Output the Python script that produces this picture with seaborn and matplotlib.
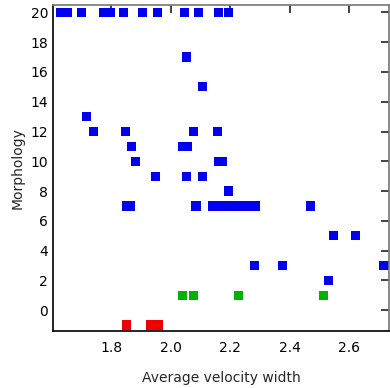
import numpy as np
import pandas as pd
import matplotlib
matplotlib.use("Agg")
import matplotlib.pyplot as plt
import seaborn as sns

# --- data ---
blue_x = [1.627, 1.653, 1.699, 1.772, 1.798, 1.840, 1.904, 1.955, 2.046, 2.093, 2.160, 2.194,
          2.053,
          2.106,
          1.716,
          1.739, 1.847, 2.076, 2.157,
          1.867, 2.039, 2.056,
          1.881, 2.160, 2.174,
          1.948, 2.053, 2.106,
          2.194,
          1.851, 1.864, 2.085, 2.14, 2.17, 2.20, 2.23, 2.26, 2.285, 2.470,
          2.548, 2.622,
          2.282, 2.376, 2.718, 2.728,
          2.532]
blue_y = [20] * 12 + [17, 15, 13] + [12] * 4 + [11] * 3 + [10] * 3 + [9] * 3 + [8] + \
         [7] * 10 + [5, 5] + [3] * 4 + [2]
green_x = [2.039, 2.076, 2.228, 2.514]
green_y = [1, 1, 1, 1]
red_x = [1.851, 1.931, 1.958]
red_y = [-1, -1, -1]

groups = ["blue", "green", "red"]
palette = {"blue": "#0000ee", "green": "#00b300", "red": "#ee0000"}

df = pd.DataFrame({
    "x": blue_x + green_x + red_x,
    "y": blue_y + green_y + red_y,
    "group": ["blue"] * len(blue_x) + ["green"] * len(green_x) + ["red"] * len(red_x),
})

sns.set_style("white")
plt.rcParams['font.family'] = ['DejaVu Sans']

fig = plt.figure(figsize=(3.9, 3.88), dpi=100)
ax = fig.add_axes([53 / 390, 1 - 331 / 388, 336 / 390, 326 / 388])

sns.scatterplot(data=df, x="x", y="y", hue="group", hue_order=groups, palette=palette,
                marker="s", s=44, linewidth=0, alpha=1, legend=False, ax=ax)

ax.set_xlim(1.603, 2.735)
ax.set_ylim(-1.4, 20.5)
ax.set_xticks([1.8, 2.0, 2.2, 2.4, 2.6])
ax.set_yticks(range(0, 21, 2))
ax.set_xlabel("Average velocity width", fontsize=10, labelpad=12)
ax.set_ylabel("Morphology", fontsize=10, labelpad=4)

ax.tick_params(direction="in", length=6, width=1.2, labelsize=10,
               top=True, right=True, colors="#222222", labelcolor="black")
ax.tick_params(axis="x", pad=7)
for side in ["left", "bottom"]:
    ax.spines[side].set_color("black")
    ax.spines[side].set_linewidth(1.2)
for side in ["top", "right"]:
    ax.spines[side].set_color("#777777")
    ax.spines[side].set_linewidth(1.2)

fig.savefig("out.png", dpi=100)
